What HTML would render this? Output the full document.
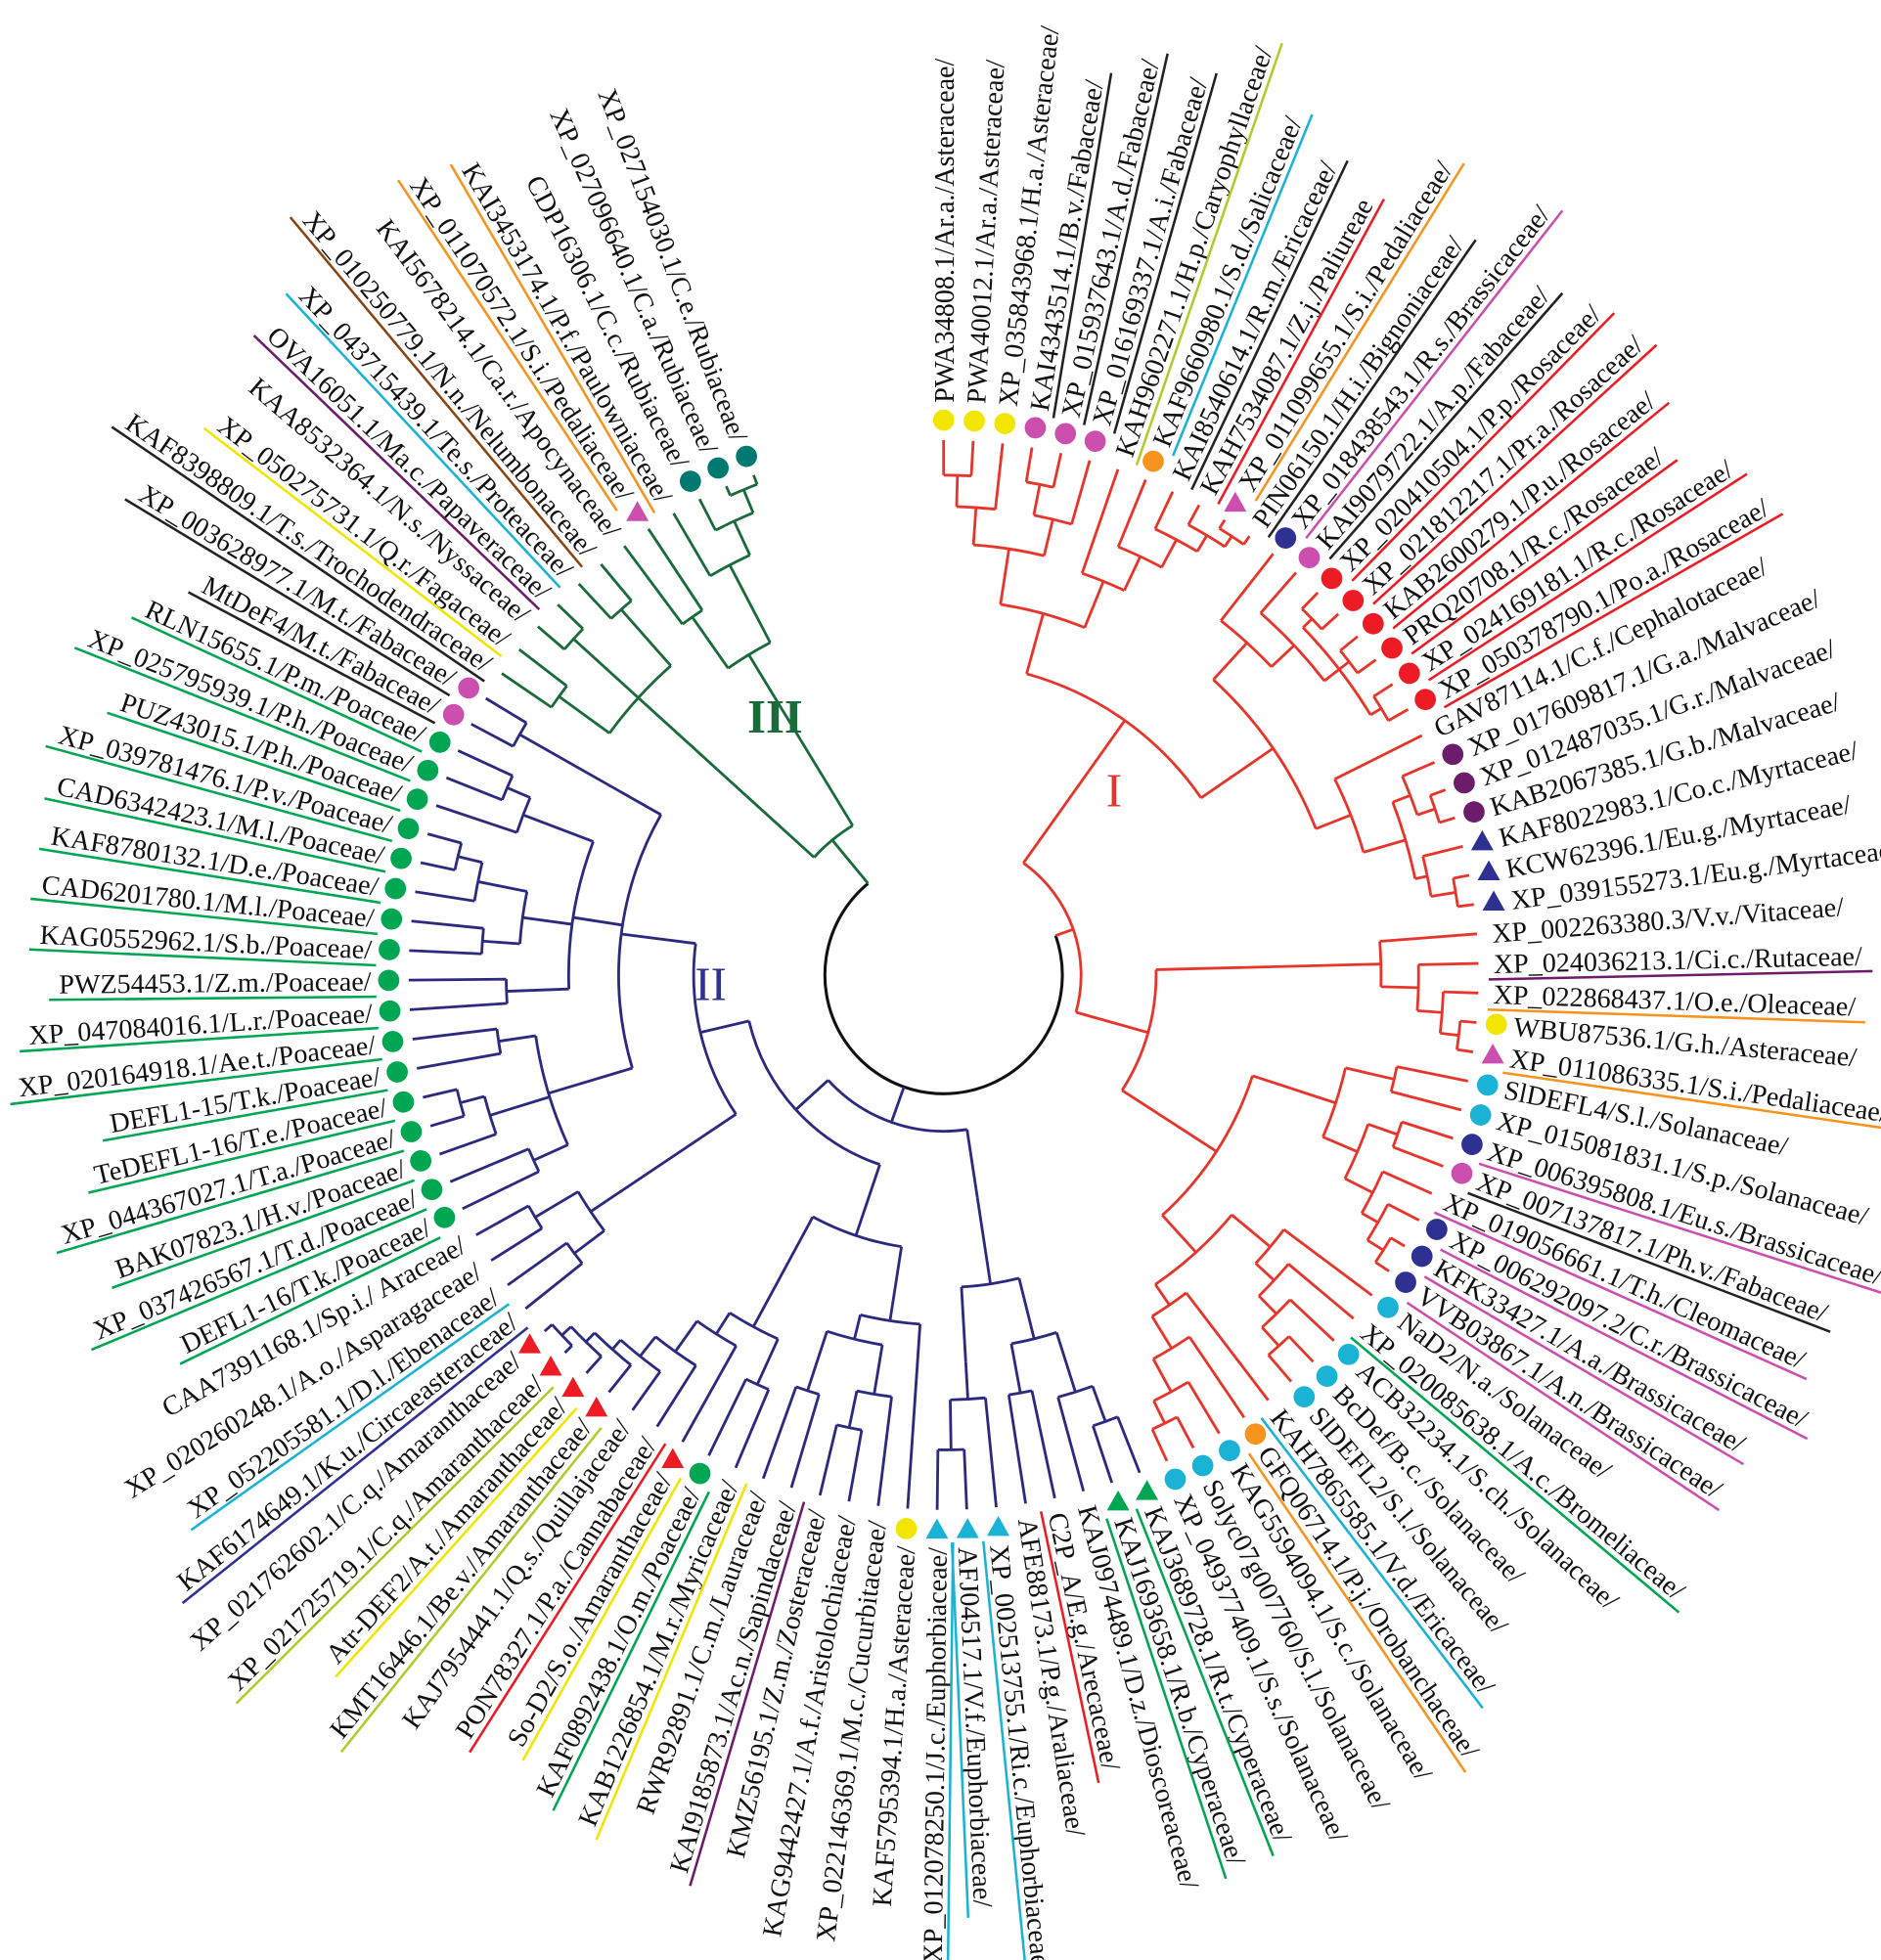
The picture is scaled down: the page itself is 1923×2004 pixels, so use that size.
<!DOCTYPE html>
<html><head><meta charset="utf-8">
<style>
html,body{margin:0;padding:0;background:#fff;}
svg{display:block;}
text{font-family:"Liberation Serif",serif;}
</style></head>
<body>
<svg id="s" xmlns="http://www.w3.org/2000/svg" width="1923" height="2004" viewBox="0 0 1505 1568">
<rect width="1505" height="1568" fill="#fff"/>
<g id="br"></g>
<g id="mk"></g>
<g id="lb"></g>
<text x="885" y="645" font-size="38" fill="#e8352b">I</text>
<text x="556" y="800" font-size="38" fill="#2e3192">II</text>
<text x="598" y="586" font-size="38" fill="#1a6b3a" font-weight="bold">III</text>
</svg>
<script>
var CX=755,CY=780;
var labels=["PWA34808.1/Ar.a./Asteraceae/","PWA40012.1/Ar.a./Asteraceae/","XP_035843968.1/H.a./Asteraceae/","KAI4343514.1/B.v./Fabaceae/","XP_015937643.1/A.d./Fabaceae/","XP_016169337.1/A.i./Fabaceae/","KAH9602271.1/H.p./Caryophyllaceae/","KAF9660980.1/S.d./Salicaceae/","KAI8540614.1/R.m./Ericaceae/","KAH7534087.1/Z.j./Paliureae","XP_011099655.1/S.i./Pedaliaceae/","PIN06150.1/H.i./Bignoniaceae/","XP_018438543.1/R.s./Brassicaceae/","KAI9079722.1/A.p./Fabaceae/","XP_020410504.1/P.p./Rosaceae/","XP_021812217.1/Pr.a./Rosaceae/","KAB2600279.1/P.u./Rosaceae/","PRQ20708.1/R.c./Rosaceae/","XP_024169181.1/R.c./Rosaceae/","XP_050378790.1/Po.a./Rosaceae/","GAV87114.1/C.f./Cephalotaceae/","XP_017609817.1/G.a./Malvaceae/","XP_012487035.1/G.r./Malvaceae/","KAB2067385.1/G.b./Malvaceae/","KAF8022983.1/Co.c./Myrtaceae/","KCW62396.1/Eu.g./Myrtaceae/","XP_039155273.1/Eu.g./Myrtaceae/","XP_002263380.3/V.v./Vitaceae/","XP_024036213.1/Ci.c./Rutaceae/","XP_022868437.1/O.e./Oleaceae/","WBU87536.1/G.h./Asteraceae/","XP_011086335.1/S.i./Pedaliaceae/","SlDEFL4/S.l./Solanaceae/","XP_015081831.1/S.p./Solanaceae/","XP_006395808.1/Eu.s./Brassicaceae/","XP_007137817.1/Ph.v./Fabaceae/","XP_019056661.1/T.h./Cleomaceae/","XP_006292097.2/C.r./Brassicaceae/","KFK33427.1/A.a./Brassicaceae/","VVB03867.1/A.n./Brassicaceae/","NaD2/N.a./Solanaceae/","XP_020085638.1/A.c./Bromeliaceae/","ACB32234.1/S.ch./Solanaceae/","BcDef/B.c./Solanaceae/","SlDEFL2/S.l./Solanaceae/","KAH7865585.1/V.d./Ericaceae/","GFQ06714.1/P.j./Orobanchaceae/","KAG5594094.1/S.c./Solanaceae/","Solyc07g007760/S.l./Solanaceae/","XP_049377409.1/S.s./Solanaceae/","KAJ3689728.1/R.t./Cyperaceae/","KAJ1693658.1/R.b./Cyperaceae/","KAJ0974489.1/D.z./Dioscoreaceae/","C2P_A/E.g./Arecaceae/","AFE88173.1/P.g./Araliaceae/","XP_002513755.1/Ri.c./Euphorbiaceae/","AFJ04517.1/V.f./Euphorbiaceae/","XP_012078250.1/J.c./Euphorbiaceae/","KAF5795394.1/H.a./Asteraceae/","XP_022146369.1/M.c./Cucurbitaceae/","KAG9442427.1/A.f./Aristolochiaceae/","KMZ56195.1/Z.m./Zosteraceae/","KAI9185873.1/Ac.n./Sapindaceae/","RWR92891.1/C.m./Lauraceae/","KAB1226854.1/M.r./Myricaceae/","KAF0892438.1/O.m./Poaceae/","So-D2/S.o./Amaranthaceae/","PON78327.1/P.a./Cannabaceae/","KAJ7954441.1/Q.s./Quillajaceae/","KMT16446.1/Be.v./Amaranthaceae/","Atr-DEF2/A.t./Amaranthaceae/","XP_021725719.1/C.q./Amaranthaceae/","XP_021762602.1/C.q./Amaranthaceae/","KAF6174649.1/K.u./Circaeasteraceae/","XP_052205581.1/D.l./Ebenaceae/","XP_020260248.1/A.o./Asparagaceae/","CAA7391168.1/Sp.i./ Araceae/","DEFL1-16/T.k./Poaceae/","XP_037426567.1/T.d./Poaceae/","BAK07823.1/H.v./Poaceae/","XP_044367027.1/T.a./Poaceae/","TeDEFL1-16/T.e./Poaceae/","DEFL1-15/T.k./Poaceae/","XP_020164918.1/Ae.t./Poaceae/","XP_047084016.1/L.r./Poaceae/","PWZ54453.1/Z.m./Poaceae/","KAG0552962.1/S.b./Poaceae/","CAD6201780.1/M.l./Poaceae/","KAF8780132.1/D.e./Poaceae/","CAD6342423.1/M.l./Poaceae/","XP_039781476.1/P.v./Poaceae/","PUZ43015.1/P.h./Poaceae/","XP_025795939.1/P.h./Poaceae/","RLN15655.1/P.m./Poaceae/","MtDeF4/M.t./Fabaceae/","XP_003628977.1/M.t./Fabaceae/","KAF8398809.1/T.s./Trochodendraceae/","XP_050275731.1/Q.r./Fagaceae/","KAA8532364.1/N.s./Nyssaceae/","OVA16051.1/Ma.c./Papaveraceae/","XP_043715439.1/Te.s./Proteaceae/","XP_010250779.1/N.n./Nelumbonaceae/","KAI5678214.1/Ca.r./Apocynaceae/","XP_011070572.1/S.i./Pedaliaceae/","KAI3453174.1/P.f./Paulowniaceae/","CDP16306.1/C.c./Rubiaceae/","XP_027096640.1/C.a./Rubiaceae/","XP_027154030.1/C.e./Rubiaceae/"];
var Y="#f2e600",M="#cc4fb0",T="#007a70",O="#f7941d",N="#2e3192",R="#ed1c24",P="#6d1b6b",G="#00a651",C="#1ab3d6";
var mk={1:["c",Y],2:["c",Y],3:["c",Y],4:["c",M],5:["c",M],6:["c",M],8:["c",O],11:["t",M],13:["c",N],14:["c",M],15:["c",R],16:["c",R],17:["c",R],18:["c",R],19:["c",R],20:["c",R],22:["c",P],23:["c",P],24:["c",P],25:["t",N],26:["t",N],27:["t",N],31:["c",Y],32:["t",M],33:["c",C],34:["c",C],35:["c",N],36:["c",M],38:["c",N],39:["c",N],40:["c",N],41:["c",C],43:["c",C],44:["c",C],45:["c",C],47:["c",O],48:["c",C],49:["c",C],50:["c",C],51:["t",G],52:["t",G],56:["t",C],57:["t",C],58:["t",C],59:["c",Y],66:["c",G],67:["t",R],70:["t",R],71:["t",R],72:["t",R],73:["t",R],95:["c",M],96:["c",M],104:["t",M],106:["c",T],107:["c",T],108:["c",T]};
for(var i=78;i<=94;i++)mk[i]=["c",G];
var YG="#b5c92a",K="#222",B="#8b4513";
var ul={4:K,5:K,6:K,7:YG,8:C,9:K,10:R,11:O,12:K,13:M,14:K,15:R,16:R,17:R,18:R,19:R,20:R,29:P,30:O,32:O,35:M,36:K,37:M,38:M,39:M,40:M,42:G,46:C,47:O,51:G,52:G,54:R,56:C,57:C,58:C,63:P,65:Y,66:G,67:Y,68:R,70:YG,71:Y,72:YG,74:N,75:C,95:K,96:K,97:K,98:Y,100:P,101:C,102:B,104:O,105:O};
for(var i=78;i<=94;i++)ul[i]=G;
function ang(i){return (i-1)*3.17;}
function Nd(r){var k=[].slice.call(arguments,1);return {r:r,k:k};}
var RED="#e8352b",BLU="#2b2a7f",GRN="#1a6b3a";
var I=Nd(110,
 Nd(200,
  Nd(250,
   Nd(300,Nd(345,Nd(375,Nd(400,1,2),3),Nd(375,Nd(400,4,5),6)),Nd(340,7,Nd(370,8,Nd(395,9,Nd(410,10,Nd(420,11,12)))))),
   Nd(320,Nd(360,13,Nd(385,14,Nd(400,Nd(410,15,16),Nd(410,17,18),Nd(410,19,20)))),Nd(350,21,Nd(385,Nd(400,22,Nd(415,23,24)),Nd(395,25,Nd(415,26,27)))))
  )),
 Nd(170,
  Nd(350,28,Nd(380,29,Nd(400,30,Nd(415,31,32)))),
  Nd(260,Nd(330,Nd(370,33,34),Nd(360,Nd(385,35,36),Nd(385,37,Nd(400,38,Nd(415,39,40))))),
   Nd(300,Nd(340,41,Nd(360,42,Nd(380,43,Nd(400,44,45)))),Nd(320,46,Nd(350,47,Nd(380,48,Nd(400,49,50))))))
 ));
var II=Nd(125,
 Nd(180,Nd(250,Nd(300,Nd(350,Nd(380,51,52),53),Nd(340,54,55)),Nd(310,Nd(340,56,Nd(380,57,58))))),
 Nd(160,
  Nd(220,Nd(280,59,Nd(300,Nd(340,60,Nd(370,61,62)),Nd(350,63,64))),Nd(320,Nd(360,65,66),Nd(340,67,Nd(370,68,Nd(390,69,Nd(400,70,Nd(410,71,Nd(420,72,73)))))))),
  Nd(200,Nd(340,Nd(370,74,75),Nd(380,76,77)),
   Nd(260,Nd(330,Nd(360,78,79),Nd(380,80,Nd(400,81,82)),Nd(360,83,84)),
    Nd(300,Nd(350,85,86),Nd(340,Nd(370,87,88),Nd(380,89,Nd(400,90,91))),Nd(360,92,Nd(380,93,94))),Nd(390,95,96)))
 ));
var III=Nd(140,Nd(330,Nd(380,97,98),Nd(400,99,100),Nd(390,101,102)),Nd(300,Nd(350,103,104),Nd(370,105,Nd(400,106,Nd(420,107,108)))));
var LEAFR=428;
function P2(r,a){a=a*Math.PI/180;return [CX+r*Math.sin(a),CY-r*Math.cos(a)];}
var br=document.getElementById("br"),NS="http://www.w3.org/2000/svg";
function el(par,tag,at){var e=document.createElementNS(NS,tag);for(var k in at)e.setAttribute(k,at[k]);par.appendChild(e);return e;}
function angOf(n){if(typeof n==="number")return ang(n);var s=0;n.k.forEach(function(c){s+=angOf(c);});return s/n.k.length;}
function rOf(n){return typeof n==="number"?LEAFR:n.r;}
function draw(n,col){
  var as=n.k.map(angOf);var a1=Math.min.apply(null,as),a2=Math.max.apply(null,as);
  var p1=P2(n.r,a1),p2=P2(n.r,a2);
  el(br,"path",{d:"M"+p1+" A"+n.r+" "+n.r+" 0 "+((a2-a1)>180?1:0)+" 1 "+p2,fill:"none",stroke:col,"stroke-width":2.2});
  n.k.forEach(function(c){var a=angOf(c);var q1=P2(n.r,a),q2=P2(rOf(c),a);
    el(br,"line",{x1:q1[0],y1:q1[1],x2:q2[0],y2:q2[1],stroke:col,"stroke-width":2.2});
    if(typeof c!=="number")draw(c,col);});
}
draw(I,RED);draw(II,BLU);draw(III,GRN);
var aI=angOf(I),aII=angOf(II),aIII=angOf(III);
var p1=P2(95,aI),p2=P2(95,aIII);
el(br,"path",{d:"M"+p1+" A95 95 0 1 1 "+p2,fill:"none",stroke:"#111","stroke-width":2.4});
[[aI,I,RED],[aII,II,BLU],[aIII,III,GRN]].forEach(function(x){var q1=P2(95,x[0]),q2=P2(x[1].r,x[0]);el(br,"line",{x1:q1[0],y1:q1[1],x2:q2[0],y2:q2[1],stroke:x[2],"stroke-width":2.2});});
var mkg=document.getElementById("mk"),lb=document.getElementById("lb");
for(var i=1;i<=108;i++){
  var a=ang(i),flip=(a>=180);
  var rot=flip?a+90:a-90;
  var g=el(lb,"g",{transform:"rotate("+rot+" "+CX+" "+CY+")"});
  var m=mk[i];
  var mr=444, tr=m?458:440;
  var sx=flip?-1:1;
  if(m){
    var mx=CX+sx*mr;
    if(m[0]=="c")el(g,"circle",{cx:mx,cy:CY,r:8.5,fill:m[1]});
    else {var p=P2(mr,a);el(mkg,"polygon",{points:(p[0])+","+(p[1]-9)+" "+(p[0]-9)+","+(p[1]+7)+" "+(p[0]+9)+","+(p[1]+7),fill:m[1]});}
  }
  var t=el(g,"text",{x:CX+sx*tr,y:CY+8,"font-size":22,fill:"#111","text-anchor":flip?"end":"start"});
  t.textContent=labels[i-1];
  if(ul[i]){
    var len;try{len=t.getComputedTextLength();}catch(e){len=0;}
    if(!len)len=labels[i-1].length*10.8;
    var x1=CX+sx*(tr-4),x2=CX+sx*(tr+len+8);
    el(g,"line",{x1:x1,y1:CY+13,x2:x2,y2:CY+13,stroke:ul[i],"stroke-width":2});
  }
}
</script>
</body></html>
